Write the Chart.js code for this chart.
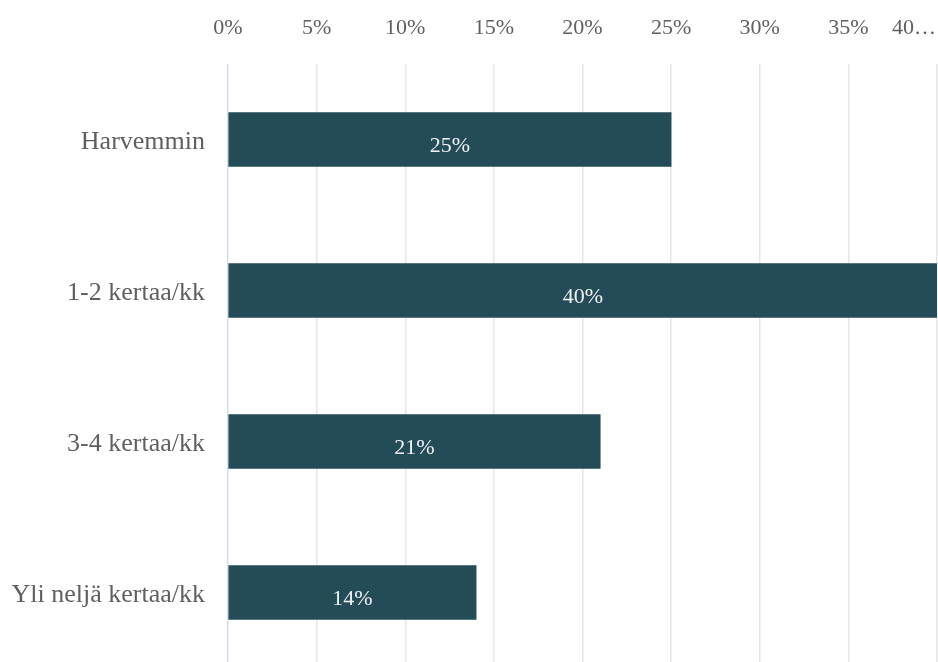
<!DOCTYPE html>
<html>
<head>
<meta charset="utf-8">
<script src="https://cdn.jsdelivr.net/npm/chart.js@4.4.0/dist/chart.umd.min.js"></script>
<style>
    html, body { margin: 0; padding: 0; background: #fff; overflow: hidden; }
    canvas { display: block; }
</style>
</head>
<body>
<canvas id="barChart" width="938" height="668"></canvas>
<script>
const categories = ['Harvemmin', '1-2 kertaa/kk', '3-4 kertaa/kk', 'Yli neljä kertaa/kk'];
const shares = [25, 40, 21, 14];
const tickValues = [0, 5, 10, 15, 20, 25, 30, 35, 40];
const tickLabels = ['0%', '5%', '10%', '15%', '20%', '25%', '30%', '35%', '40…'];

const serif = '"Liberation Serif", "Times New Roman", serif';
const textGray = '#5f5f5f';

// draws the top tick labels and the values inside the bars
const labelPlugin = {
    id: 'labels',
    afterDraw(chart) {
        const ctx = chart.ctx;
        const x = chart.scales.x;
        ctx.save();
        ctx.font = '22px ' + serif;
        ctx.fillStyle = textGray;
        ctx.textBaseline = 'middle';
        ctx.textAlign = 'center';
        tickValues.forEach((v, i) => {
            let px = x.getPixelForValue(v);
            const w = ctx.measureText(tickLabels[i]).width;
            if (px + w / 2 > chart.width - 2) px = chart.width - 2 - w / 2;
            ctx.fillText(tickLabels[i], px, 28);
        });

        const meta = chart.getDatasetMeta(0);
        ctx.fillStyle = '#eef2f3';
        meta.data.forEach((bar, i) => {
            const cx = (bar.x + bar.base) / 2;
            ctx.fillText(shares[i] + '%', cx, bar.y + 7);
        });
        ctx.restore();
    }
};

new Chart(document.getElementById('barChart'), {
    type: 'bar',
    data: {
        labels: categories,
        datasets: [{
            data: shares,
            backgroundColor: '#244b58',
            barThickness: 54
        }]
    },
    options: {
        indexAxis: 'y',
        responsive: false,
        animation: false,
        layout: { padding: { top: 64, right: 1, left: 0, bottom: 0 } },
        plugins: { legend: { display: false }, tooltip: { enabled: false } },
        scales: {
            x: {
                position: 'top',
                min: 0,
                max: 40,
                ticks: { display: false, stepSize: 5 },
                border: { display: false },
                grid: {
                    drawTicks: false,
                    color: ctx => ctx.tick && ctx.tick.value === 0 ? '#d3ddef' : '#e6e6e6',
                    lineWidth: 1.5
                }
            },
            y: {
                afterFit(scale) {
                    scale.width = 228;
                    scale.paddingTop = 0;
                    scale.paddingBottom = 0;
                },
                border: { display: false },
                grid: { display: false, drawTicks: false },
                ticks: {
                    padding: 23,
                    labelOffset: 3,
                    color: textGray,
                    font: { family: serif, size: 26 }
                }
            }
        }
    },
    plugins: [labelPlugin]
});
</script>
</body>
</html>
